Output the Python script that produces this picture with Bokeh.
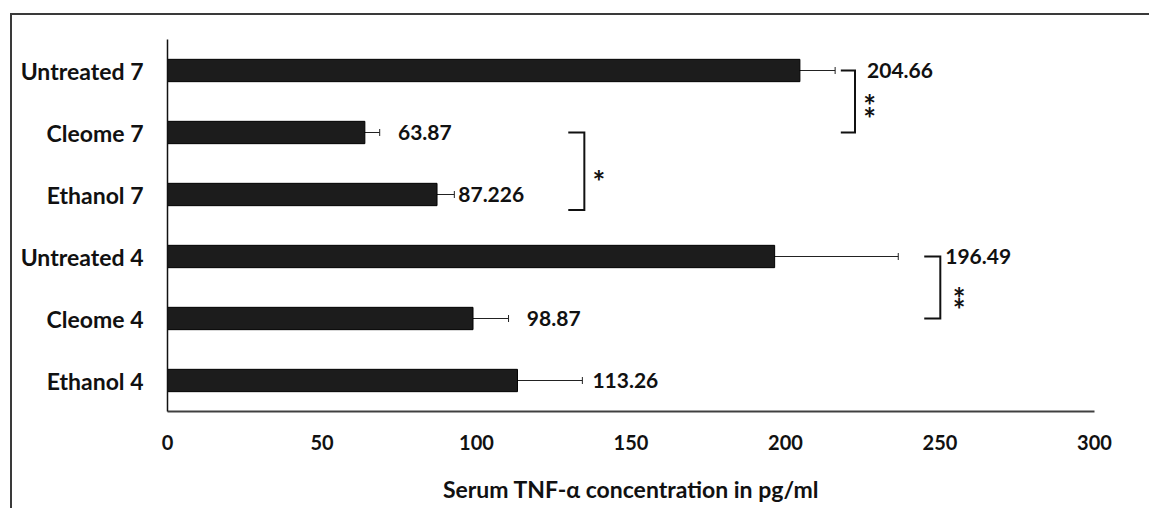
from bokeh.plotting import figure
from bokeh.models import ColumnDataSource, Whisker, TeeHead, FixedTicker
from bokeh.core.properties import value
from bokeh.embed import file_html
from bokeh.resources import INLINE

# ---- data (bottom to top) ----
categories = ["Ethanol 4", "Cleome 4", "Untreated 4", "Ethanol 7", "Cleome 7", "Untreated 7"]
means = [113.26, 98.87, 196.49, 87.226, 63.87, 204.66]
errors = [21.0, 11.5, 40.0, 5.6, 4.8, 11.4]
value_labels = ["113.26", "98.87", "196.49", "87.226", "63.87", "204.66"]
x_ticks = [0, 50, 100, 150, 200, 250, 300]

# significance annotations: (top factor, bottom factor, bottom offset, stars)
sig_pairs = [("Untreated 7", "Cleome 7", 0.0, "**"),
             ("Cleome 7", "Ethanol 7", -0.25, "*"),
             ("Untreated 4", "Cleome 4", 0.0, "**")]

# ---- layout-only positions ----
label_x = [137.5, 116.3, 251.7, 94.1, 74.6, 226.4]
bracket_x = [(217.9, 222.5), (129.7, 134.9), (244.9, 250.1)]
star_x = [227.2, 139.6, 256.2]
star_y = [[("Untreated 7", -0.49), ("Untreated 7", -0.70)],
          [("Ethanol 7", 0.28)],
          [("Untreated 4", -0.61), ("Untreated 4", -0.79)]]

FONT = "Lato"

p = figure(y_range=categories, x_range=(0, 300), width=1137, height=493,
           output_backend="svg", toolbar_location=None,
           min_border_left=155, min_border_right=57, min_border_top=24, min_border_bottom=99)
p.styles = {"margin-left": "10px", "margin-top": "13px",
            "box-sizing": "content-box", "overflow": "hidden",
            "border-top": "2px solid #3a3a3a", "border-left": "2px solid #3a3a3a"}

p.outline_line_color = None
p.xgrid.grid_line_color = None
p.ygrid.grid_line_color = None

lo = [m - e for m, e in zip(means, errors)]
hi = [m + e for m, e in zip(means, errors)]
src = ColumnDataSource(dict(cat=categories, mean=means, lo=lo, hi=hi,
                            lab=value_labels, lx=label_x))

p.hbar(y="cat", right="mean", left=0, height=0.36, source=src,
       fill_color="#1c1c1c", line_color="#000000", line_width=1)

wh = Whisker(source=src, base="cat", lower="lo", upper="hi", dimension="width",
             upper_head=TeeHead(size=7, line_width=1, line_color="#222222"),
             lower_head=None, line_color="#222222", line_width=1)
p.add_layout(wh)

p.text(x="lx", y="cat", text="lab", source=src, text_font=value(FONT),
       text_font_style="bold", text_font_size="21px", text_color="#111111",
       text_baseline="middle", text_align="left")

# brackets and stars
for (top, bot, boff, stars), (x1, x2), sx, sy in zip(sig_pairs, bracket_x, star_x, star_y):
    p.line(x=[x1, x2, x2, x1], y=[(top, 0.0), (top, 0.0), (bot, boff), (bot, boff)],
           line_color="#111111", line_width=2, line_join="miter")
    p.text(x=[sx] * len(sy), y=sy, text=["*"] * len(sy), text_font=value(FONT),
           text_font_style="bold", text_font_size="30px", text_color="#111111",
           text_baseline="middle", text_align="center", y_offset=4)

# axes
p.xaxis.ticker = FixedTicker(ticks=x_ticks)
p.xaxis.axis_label = "Serum TNF-α concentration in pg/ml"
p.xaxis.axis_label_text_font = FONT
p.xaxis.axis_label_text_font_style = "bold"
p.xaxis.axis_label_text_font_size = "23px"
p.xaxis.axis_label_text_color = "#111111"
p.xaxis.axis_label_standoff = 22
p.xaxis.major_label_text_font = FONT
p.xaxis.major_label_text_font_style = "bold"
p.xaxis.major_label_text_font_size = "20px"
p.xaxis.major_label_text_color = "#111111"
p.xaxis.major_label_standoff = 23
p.xaxis.major_tick_line_color = None
p.xaxis.minor_tick_line_color = None
p.xaxis.major_tick_out = 0
p.xaxis.major_tick_in = 0
p.xaxis.axis_line_color = "#404040"
p.xaxis.axis_line_width = 2

p.yaxis.major_label_text_font = FONT
p.yaxis.major_label_text_font_style = "bold"
p.yaxis.major_label_text_font_size = "23px"
p.yaxis.major_label_text_color = "#111111"
p.yaxis.major_label_standoff = 24
p.yaxis.major_tick_line_color = None
p.yaxis.minor_tick_line_color = None
p.yaxis.major_tick_out = 0
p.yaxis.major_tick_in = 0
p.yaxis.axis_line_color = "#111111"
p.yaxis.axis_line_width = 1.5

open("out.html", "w").write(file_html(p, INLINE))
